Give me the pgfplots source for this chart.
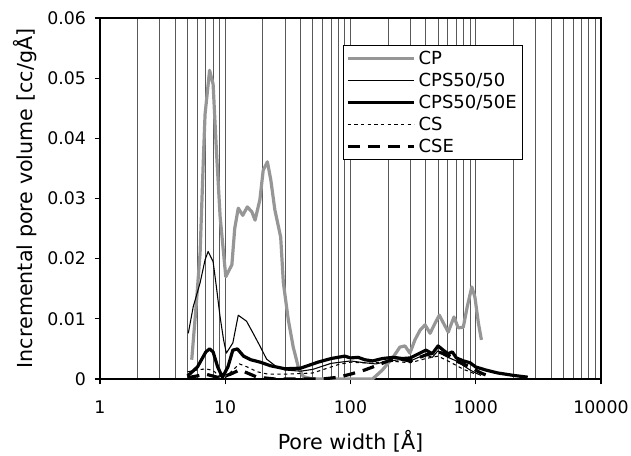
\documentclass[border=0pt]{standalone}
\usepackage{fontspec}
\setmainfont{DejaVu Sans}
\usepackage{pgfplots}
\pgfplotsset{compat=1.18}
\definecolor{cpgray}{RGB}{150,150,150}
\begin{document}
\begin{tikzpicture}
\begin{axis}[
  name=ax,
  scale only axis,
  width=375.75pt, height=270.75pt,
  xmode=log, xmin=1, xmax=10000,
  ymin=0, ymax=0.06,
  scaled y ticks=false,
  xtick={1,10,100,1000,10000},
  xticklabels={1,10,100,1000,10000},
  ytick={0,0.01,0.02,0.03,0.04,0.05,0.06},
  yticklabels={0,0.01,0.02,0.03,0.04,0.05,0.06},
  xtick pos=left, ytick pos=left,
  tick align=outside,
  major tick length=4pt,
  minor tick length=0pt,
  xmajorgrids, xminorgrids,
  major grid style={black!65, line width=0.7pt},
  minor grid style={black!65, line width=0.7pt},
  axis line style={black, line width=0.9pt},
  every tick/.style={black, line width=0.8pt},
  tick label style={font=\fontsize{13}{15}\selectfont},
  /pgf/number format/assume math mode=true,
  xticklabel style={yshift=-9pt},
  yticklabel style={xshift=-3pt},
  xlabel={Pore width [Å]},
  ylabel={Incremental pore volume [cc/gÅ]},
  xlabel style={font=\fontsize{15.5}{18}\selectfont, at={(axis description cs:0.5,-0.173)}, anchor=center},
  ylabel style={font=\fontsize{15.5}{18}\selectfont, at={(axis description cs:-0.1497,0.5)}, anchor=center},
  legend style={at={(rel axis cs:0.485,0.925)}, anchor=north west,
    draw=black, line width=0.6pt, fill=white, font=\fontsize{13.5}{16}\selectfont,
    inner xsep=2pt, inner ysep=2pt, row sep=1pt},
  legend cell align=left,
  legend image code/.code={\draw[#1] (0pt,0pt) -- (50pt,0pt);},
]
% CP
\addplot[cpgray, line width=2.4pt, line join=round] coordinates {
(5.4,0.0032) (5.9,0.013) (6.3,0.021) (6.7,0.037) (6.9,0.044) (7.5,0.0513)
(8.0,0.049) (8.5,0.038) (9.1,0.027) (10.1,0.017) (11.3,0.019) (11.9,0.025)
(12.7,0.0284) (13.8,0.0272) (15.0,0.0286) (16.3,0.0278) (17.3,0.0264)
(18.9,0.0298) (20.1,0.0347) (21.7,0.0361) (23.1,0.0331) (24.9,0.0281)
(27.7,0.0236) (29.1,0.016) (31.9,0.0098) (34.9,0.0053) (38.3,0.002)
(42,0.0004) (50,0) (100,0) (150,0) (180,0.0015) (220,0.0037) (248,0.0053)
(272,0.0055) (298,0.0043) (327,0.0065) (359,0.0081) (394,0.009) (432,0.0076)
(474,0.0093) (512,0.0106) (552,0.0093) (603,0.0078) (670,0.0103) (725,0.0085)
(795,0.0086) (855,0.012) (930,0.0153) (985,0.0136) (1050,0.0093) (1110,0.0065)
};
\addlegendentry{CP}
% CPS50/50
\addplot[black, line width=0.8pt, line join=round] coordinates {
(5.07,0.0076) (5.55,0.012) (6.3,0.016) (6.9,0.0198) (7.3,0.0212) (8.0,0.0195)
(8.5,0.0153) (9.1,0.0103) (9.7,0.0065) (10.2,0.0043) (11.5,0.006) (12.7,0.0106)
(14.8,0.0096) (16.7,0.0076) (18.9,0.0055) (21.4,0.0033) (25.8,0.002)
(30,0.0015) (40,0.0013) (50,0.0016) (70,0.0026) (100,0.003) (130,0.0027)
(160,0.0025) (200,0.003) (250,0.0032) (300,0.003) (350,0.0036) (400,0.004)
(450,0.0036) (500,0.0047) (550,0.004) (600,0.0036) (700,0.003) (800,0.0022)
(900,0.0015) (1000,0.001) (1100,0.0006)
};
\addlegendentry{CPS50/50}
% CPS50/50E
\addplot[black, line width=2.4pt, line join=round] coordinates {
(5,0.0005) (6,0.002) (7,0.0045) (7.5,0.005) (8,0.0045) (8.7,0.002) (9.5,0.0003)
(10.5,0.002) (11.5,0.0048) (12.5,0.005) (14,0.0038) (16,0.0032) (19,0.0028)
(23,0.0022) (30,0.0017) (40,0.0018) (55,0.0028) (70,0.0034) (90,0.0038)
(100,0.0035) (115,0.0036) (130,0.0032) (150,0.003) (180,0.0034) (220,0.0036)
(260,0.0034) (300,0.0035) (350,0.0042) (400,0.0048) (450,0.0042) (500,0.0055)
(550,0.0048) (600,0.0042) (650,0.0045) (700,0.0035) (800,0.003) (900,0.0027)
(1000,0.002) (1200,0.0015) (1500,0.001) (2000,0.0006) (2600,0.0003)
};
\addlegendentry{CPS50/50E}
% CS
\addplot[black, line width=0.8pt, dash pattern=on 2.5pt off 2.5pt] coordinates {
(5,0.0012) (6,0.0015) (7,0.0017) (8,0.0014) (9,0.0005) (10,0.0002) (11.5,0.0015)
(13,0.0025) (15,0.002) (18,0.0012) (22,0.0008) (30,0.0008) (50,0.001)
(80,0.0024) (100,0.0028) (150,0.0026) (200,0.003) (300,0.0027) (400,0.0034)
(500,0.0038) (600,0.003) (800,0.0016) (1000,0.0008)
};
\addlegendentry{CS}
% CSE
\addplot[black, line width=2.4pt, dash pattern=on 9pt off 6pt] coordinates {
(5,0.0002) (7,0.0008) (9,0.0002) (11,0.0008) (13,0.0015) (15,0.001) (18,0.0003)
(25,0) (40,0) (60,0) (80,0.0003) (100,0.0008) (130,0.0015) (160,0.0022)
(200,0.003) (250,0.0033) (300,0.003) (400,0.004) (500,0.0045) (600,0.004)
(700,0.003) (900,0.002) (1100,0.001) (1300,0.0004)
};
\addlegendentry{CSE}
\end{axis}
\pgfresetboundingbox
\path (ax.south west) +(-75pt,-57.75pt) (ax.north east) +(22.5pt,13.5pt);
\end{tikzpicture}
\end{document}
